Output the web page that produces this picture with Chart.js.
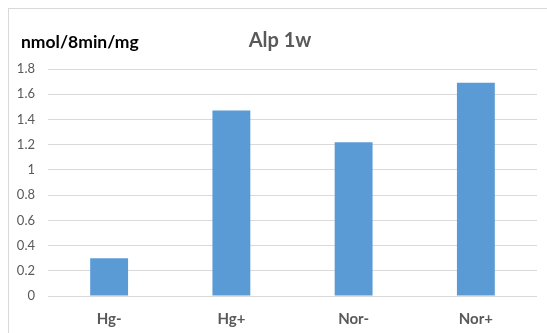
<!DOCTYPE html>
<html>
<head>
<meta charset="utf-8">
<script src="https://cdn.jsdelivr.net/npm/chart.js@4"></script>
<style>
  html, body { margin: 0; padding: 0; background: #ffffff; }
  #wrap { width: 547px; height: 333px; position: relative; }
</style>
</head>
<body>
<div id="wrap"><canvas id="c" width="547" height="333"></canvas></div>
<script>
// Alkaline phosphatase activity after 1 week, per group
const categories = ['Hg-', 'Hg+', 'Nor-', 'Nor+'];
const alpValues = [0.30, 1.47, 1.22, 1.69];
const yTicks = [0, 0.2, 0.4, 0.6, 0.8, 1, 1.2, 1.4, 1.6, 1.8];
const chartTitle = 'Alp 1w';
const unitLabel = 'nmol/8min/mg';

const FONT = "Lato, 'Open Sans', 'Liberation Sans', sans-serif";

// Frame, title and unit label drawn on the canvas
const decorations = {
  id: 'decorations',
  beforeDraw(chart) {
    const ctx = chart.ctx;
    ctx.save();
    ctx.fillStyle = '#ffffff';
    ctx.fillRect(0, 0, chart.width, chart.height);
    ctx.strokeStyle = '#d9d9d9';
    ctx.lineWidth = 1;
    ctx.strokeRect(8.5, 8.5, chart.width + 10, chart.height + 10);
    ctx.restore();
  },
  afterDraw(chart) {
    const ctx = chart.ctx;
    ctx.save();
    ctx.textBaseline = 'alphabetic';
    ctx.fillStyle = '#595959';
    ctx.font = 'bold 20px ' + FONT;
    ctx.textAlign = 'center';
    ctx.fillText(chartTitle, 280, 47);
    ctx.fillStyle = '#000000';
    ctx.font = 'bold 17.5px ' + FONT;
    ctx.textAlign = 'left';
    ctx.fillText(unitLabel, 21, 48);
    ctx.restore();
  }
};

new Chart(document.getElementById('c'), {
  type: 'bar',
  data: {
    labels: categories,
    datasets: [{
      data: alpValues,
      backgroundColor: '#5b9bd5',
      borderWidth: 0,
      barPercentage: 0.31,
      categoryPercentage: 1
    }]
  },
  options: {
    responsive: false,
    animation: false,
    layout: { padding: { top: 69, left: 8, right: 10, bottom: 0 } },
    plugins: {
      legend: { display: false },
      title: { display: false },
      tooltip: { enabled: false }
    },
    scales: {
      x: {
        grid: { display: false },
        border: { display: false },
        ticks: {
          color: '#595959',
          font: { family: FONT, size: 15, weight: 'bold' },
          padding: 6
        },
        afterFit(scale) { scale.height = 37; }
      },
      y: {
        min: 0,
        max: 1.8,
        afterBuildTicks(scale) {
          scale.ticks = yTicks.map(v => ({ value: v }));
        },
        grid: { color: '#d9d9d9', lineWidth: 1, drawTicks: false },
        border: { display: false },
        ticks: {
          color: '#595959',
          font: { family: FONT, size: 13 },
          padding: 13,
          callback: v => String(v)
        },
        afterFit(scale) { scale.width = 40; }
      }
    }
  },
  plugins: [decorations]
});
</script>
</body>
</html>
